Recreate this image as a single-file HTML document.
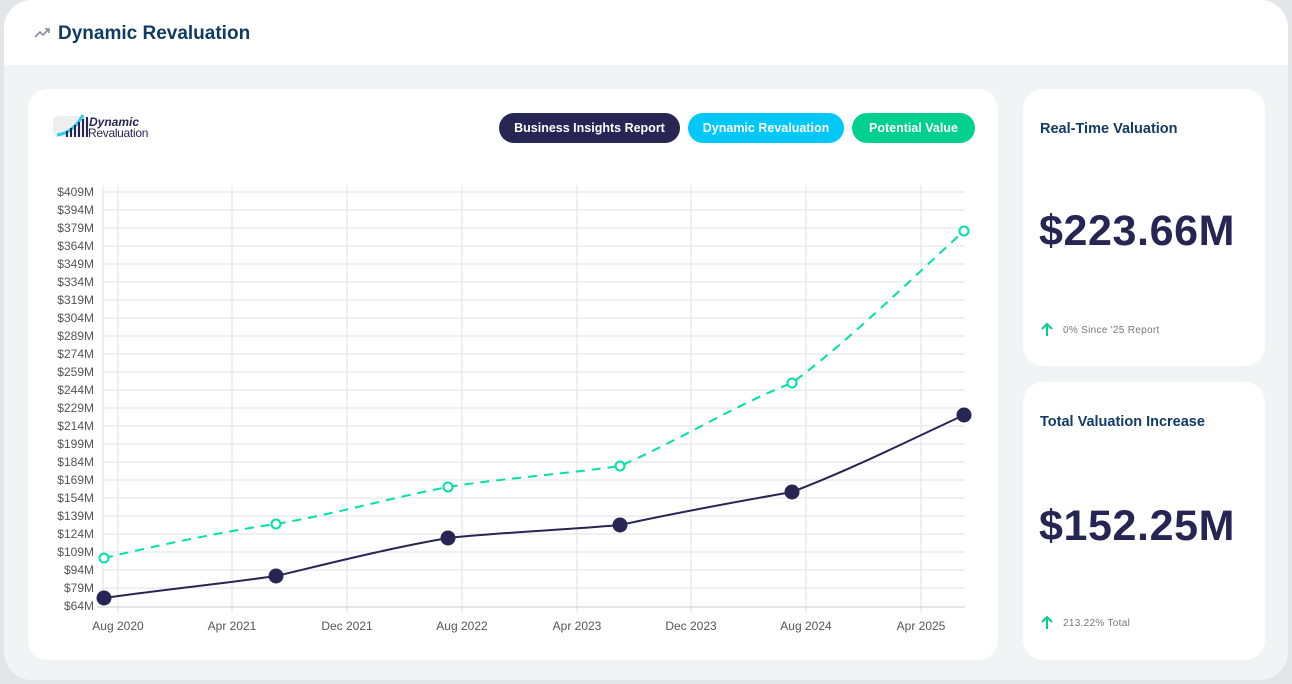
<!DOCTYPE html>
<html><head><meta charset="utf-8"><style>
*{margin:0;padding:0;box-sizing:border-box}
body{width:1292px;height:684px;background:#e3e6e8;font-family:"Liberation Sans",sans-serif;position:relative;overflow:hidden}
.frame{position:absolute;left:4px;top:0;width:1284px;height:680px;border-radius:28px;background:#f1f4f5;overflow:hidden}
.hdr{position:absolute;left:0;top:0;width:100%;height:65px;background:#fff}
.hdr h1{position:absolute;left:54px;top:23px;font-size:19px;font-weight:bold;color:#123a66}
.card{position:absolute;background:#fff;border-radius:20px}
.pill{position:absolute;top:113px;height:30px;border-radius:15px;color:#fff;font-size:12.5px;font-weight:bold;text-align:center;line-height:30px}
.t{position:absolute;font-size:14.5px;font-weight:bold;color:#123a66}
.big{position:absolute;font-size:43px;font-weight:bold;color:#272554;letter-spacing:0.6px}
.small{position:absolute;font-size:10px;color:#777;letter-spacing:0.3px}
</style></head><body>
<div class="frame">
<div class="hdr">
<svg style="position:absolute;left:30px;top:27px" width="18" height="12"><polyline points="1,10 6,5 9,8 15,2" fill="none" stroke="#8a8aa0" stroke-width="1.6"/><polyline points="11,2 15,2 15,6" fill="none" stroke="#8a8aa0" stroke-width="1.6"/></svg>
<h1>Dynamic Revaluation</h1></div>
</div>
<div class="card" style="left:28px;top:89px;width:970px;height:571px"></div>
<div class="card" style="left:1023px;top:89px;width:242px;height:277px"></div>
<div class="card" style="left:1023px;top:382px;width:242px;height:278px"></div>
<div style="position:absolute;left:53px;top:116px;width:36px;height:21px;background:#eee;border-radius:5px"></div>
<svg style="position:absolute;left:55px;top:113px" width="36" height="25"><path d="M2,22 Q18,20 28,2" stroke="#2ec8f0" stroke-width="3" fill="none"/><path d="M12,24 L12,18 M16,24 L16,15 M20,24 L20,12 M24,24 L24,9 M28,24 L28,6 M32,24 L32,4" stroke="#272554" stroke-width="2"/></svg>
<div style="position:absolute;left:89px;top:116px;font-size:12px;font-weight:bold;font-style:italic;color:#272554;line-height:12px">Dynamic</div>
<div style="position:absolute;left:88px;top:127px;font-size:12px;color:#272554;line-height:12px;letter-spacing:-0.3px">Revaluation</div>
<div class="pill" style="left:499px;width:181px;background:#272554">Business Insights Report</div>
<div class="pill" style="left:688px;width:156px;background:#00c8fa">Dynamic Revaluation</div>
<div class="pill" style="left:852px;width:123px;background:#00d08e">Potential Value</div>
<svg style="position:absolute;left:0;top:0" width="1000" height="660" font-family="Liberation Sans, sans-serif" font-size="12" fill="#555">
<g stroke="#e2e2e2" stroke-width="1">
<line x1="103" x2="965" y1="192" y2="192"/><line x1="103" x2="965" y1="210" y2="210"/><line x1="103" x2="965" y1="228" y2="228"/><line x1="103" x2="965" y1="246" y2="246"/><line x1="103" x2="965" y1="264" y2="264"/><line x1="103" x2="965" y1="282" y2="282"/><line x1="103" x2="965" y1="300" y2="300"/><line x1="103" x2="965" y1="318" y2="318"/><line x1="103" x2="965" y1="336" y2="336"/><line x1="103" x2="965" y1="354" y2="354"/><line x1="103" x2="965" y1="372" y2="372"/><line x1="103" x2="965" y1="390" y2="390"/><line x1="103" x2="965" y1="408" y2="408"/><line x1="103" x2="965" y1="426" y2="426"/><line x1="103" x2="965" y1="444" y2="444"/><line x1="103" x2="965" y1="462" y2="462"/><line x1="103" x2="965" y1="480" y2="480"/><line x1="103" x2="965" y1="498" y2="498"/><line x1="103" x2="965" y1="516" y2="516"/><line x1="103" x2="965" y1="534" y2="534"/><line x1="103" x2="965" y1="552" y2="552"/><line x1="103" x2="965" y1="570" y2="570"/><line x1="103" x2="965" y1="588" y2="588"/>
<line x1="118" x2="118" y1="185" y2="613"/><line x1="232" x2="232" y1="185" y2="613"/><line x1="347" x2="347" y1="185" y2="613"/><line x1="462" x2="462" y1="185" y2="613"/><line x1="577" x2="577" y1="185" y2="613"/><line x1="691" x2="691" y1="185" y2="613"/><line x1="806" x2="806" y1="185" y2="613"/><line x1="921" x2="921" y1="185" y2="613"/>
<line x1="103" x2="103" y1="185" y2="607"/>
</g>
<line x1="97" x2="965" y1="607" y2="607" stroke="#ccc"/>
<g text-anchor="end">
<text x="94" y="196">$409M</text><text x="94" y="214">$394M</text><text x="94" y="232">$379M</text><text x="94" y="250">$364M</text><text x="94" y="268">$349M</text><text x="94" y="286">$334M</text><text x="94" y="304">$319M</text><text x="94" y="322">$304M</text><text x="94" y="340">$289M</text><text x="94" y="358">$274M</text><text x="94" y="376">$259M</text><text x="94" y="394">$244M</text><text x="94" y="412">$229M</text><text x="94" y="430">$214M</text><text x="94" y="448">$199M</text><text x="94" y="466">$184M</text><text x="94" y="484">$169M</text><text x="94" y="502">$154M</text><text x="94" y="520">$139M</text><text x="94" y="538">$124M</text><text x="94" y="556">$109M</text><text x="94" y="574">$94M</text><text x="94" y="592">$79M</text><text x="94" y="610">$64M</text>
</g>
<g text-anchor="middle">
<text x="118" y="630">Aug 2020</text><text x="232" y="630">Apr 2021</text><text x="347" y="630">Dec 2021</text><text x="462" y="630">Aug 2022</text><text x="577" y="630">Apr 2023</text><text x="691" y="630">Dec 2023</text><text x="806" y="630">Aug 2024</text><text x="921" y="630">Apr 2025</text>
</g>
<path d="M104,558 C160,545 220,532 276,524 C335,514 390,498 448,487 C505,478 565,474 620,466 C680,440 735,405 792,383 C850,340 910,280 964,231" fill="none" stroke="#00e0a8" stroke-width="2" stroke-dasharray="9,7"/>
<g fill="#fff" stroke="#00e0a8" stroke-width="2"><circle cx="104" cy="558" r="4.5"/><circle cx="276" cy="524" r="4.5"/><circle cx="448" cy="487" r="4.5"/><circle cx="620" cy="466" r="4.5"/><circle cx="792" cy="383" r="4.5"/><circle cx="964" cy="231" r="4.5"/></g>
<path d="M104,598 C160,590 220,584 276,576 C335,562 390,548 448,538 C505,532 565,530 620,525 C680,512 735,502 792,492 C850,470 910,440 964,415" fill="none" stroke="#272554" stroke-width="2"/>
<g fill="#272554"><circle cx="104" cy="598" r="7.5"/><circle cx="276" cy="576" r="7.5"/><circle cx="448" cy="538" r="7.5"/><circle cx="620" cy="525" r="7.5"/><circle cx="792" cy="492" r="7.5"/><circle cx="964" cy="415" r="7.5"/></g>
</svg>
<div class="t" style="left:1040px;top:121px">Real-Time Valuation</div>
<div class="big" style="left:1039px;top:207px">$223.66M</div>
<svg style="position:absolute;left:1040px;top:322px" width="14" height="15"><path d="M7,14 V2 M2,7 L7,2 L12,7" stroke="#00d08e" stroke-width="2" fill="none"/></svg>
<div class="small" style="left:1063px;top:325px">0% Since '25 Report</div>
<div class="t" style="left:1040px;top:414px">Total Valuation Increase</div>
<div class="big" style="left:1039px;top:502px">$152.25M</div>
<svg style="position:absolute;left:1040px;top:615px" width="14" height="15"><path d="M7,14 V2 M2,7 L7,2 L12,7" stroke="#00d08e" stroke-width="2" fill="none"/></svg>
<div class="small" style="left:1063px;top:618px">213.22% Total</div>
</body></html>
